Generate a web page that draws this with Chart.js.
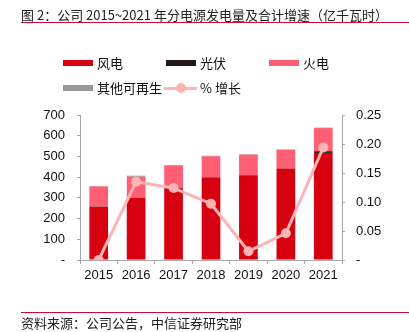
<!DOCTYPE html>
<html><head><meta charset="utf-8">
<script src="https://cdn.jsdelivr.net/npm/chart.js@4"></script>
<style>
html,body{margin:0;padding:0;background:#fff;}
#wrap{position:relative;width:409px;height:332px;overflow:hidden;font-family:"Noto Sans CJK SC","Noto Sans",sans-serif;color:#111;}
#c{position:absolute;left:0;top:0;}
.t{position:absolute;font-size:13px;line-height:16px;white-space:nowrap;}
.rule{position:absolute;left:21px;width:388px;height:1px;background:#C8102E;}
.lg{position:absolute;font-size:13px;line-height:16px;white-space:nowrap;}
.sw{position:absolute;width:30px;height:6px;}
</style></head>
<body><div id="wrap">
<canvas id="c" width="409" height="332"></canvas>
<div class="t" style="left:21px;top:7px;color:#222;">图 2：公司 2015~2021 年分电源发电量及合计增速（亿千瓦时）</div>
<div class="rule" style="top:22px;"></div>
<div id="legend"></div>
<div class="rule" style="top:312px;"></div>
<div class="t" style="left:21px;top:315px;color:#222;">资料来源：公司公告，中信证券研究部</div>
</div>
<script>
const categories = ['2015','2016','2017','2018','2019','2020','2021'];
const windPower  = [257, 301, 346, 400, 409, 440, 517];
const solarPower = [1, 1, 2, 1, 1, 1, 8];
const thermalPower = [97, 100, 107, 100, 99, 92, 112];
const otherRenewable = [2, 5, 4, 2, 2, 1, 2];
const growthRate = [0, 0.135, 0.124, 0.097, 0.015, 0.046, 0.194];
const leftTicks = [0,100,200,300,400,500,600,700];
const rightTicks = [0,0.05,0.10,0.15,0.20,0.25];

const names = ['风电','光伏','火电','其他可再生','% 增长'];
const colors = ['#D7000F','#231815','#FF5F73','#999999','#FFB3B3'];

// HTML legend (grid layout)
const lg = document.getElementById('legend');
const pos = [[63,63],[166,63],[269,63],[63,88],[164,88]];
names.forEach((n,i)=>{
  const [x,y] = pos[i];
  if(i<4){
    const s=document.createElement('div');s.className='sw';
    s.style.left=x+'px';s.style.top=(y-3)+'px';s.style.background=colors[i];lg.appendChild(s);
    const t=document.createElement('div');t.className='lg';t.textContent=n;
    t.style.left=(x+34)+'px';t.style.top=(y-8)+'px';lg.appendChild(t);
  } else {
    const l=document.createElement('div');l.style.cssText='position:absolute;left:'+x+'px;top:'+(y-1.5)+'px;width:33px;height:3px;background:'+colors[i];lg.appendChild(l);
    const d=document.createElement('div');d.style.cssText='position:absolute;left:'+(x+12)+'px;top:'+(y-5)+'px;width:10px;height:10px;border-radius:50%;background:'+colors[i];lg.appendChild(d);
    const t=document.createElement('div');t.className='lg';t.textContent=n;
    t.style.left=(x+36)+'px';t.style.top=(y-8)+'px';lg.appendChild(t);
  }
});

const tickFont = {family:'"Liberation Sans", Arial, sans-serif', size:13};
const axisColor = '#A6A6A6';

new Chart(document.getElementById('c'), {
  data: {
    labels: categories,
    datasets: [
      {type:'line', label:names[4], data:growthRate, yAxisID:'y2', borderColor:colors[4], backgroundColor:colors[4],
       borderWidth:3, pointRadius:5, pointHoverRadius:5, pointBackgroundColor:colors[4], pointBorderWidth:0, order:0, tension:0},
      {type:'bar', label:names[0], data:windPower, backgroundColor:colors[0], stack:'s', yAxisID:'y', order:1},
      {type:'bar', label:names[1], data:solarPower, backgroundColor:colors[1], stack:'s', yAxisID:'y', order:1},
      {type:'bar', label:names[2], data:thermalPower, backgroundColor:colors[2], stack:'s', yAxisID:'y', order:1},
      {type:'bar', label:names[3], data:otherRenewable, backgroundColor:colors[3], stack:'s', yAxisID:'y', order:1}
    ]
  },
  options: {
    responsive:false, animation:false, devicePixelRatio:1,
    layout:{padding:{top:115,left:0,right:0,bottom:0}},
    plugins:{legend:{display:false}, tooltip:{enabled:false}},
    datasets:{bar:{categoryPercentage:1, barPercentage:0.5}},
    scales:{
      x:{stacked:true, offset:true,
         grid:{display:true, drawOnChartArea:false, offset:true, tickLength:4, color:axisColor},
         border:{display:true, color:axisColor},
         ticks:{font:tickFont, color:'#111', padding:4, maxRotation:0},
         afterFit(s){ s.height = 72; }
      },
      y:{stacked:true, position:'left', min:0, max:700,
         afterBuildTicks(s){ s.ticks = leftTicks.map(v=>({value:v})); },
         grid:{display:true, drawOnChartArea:false, tickLength:3, color:axisColor},
         border:{display:true, color:axisColor},
         ticks:{font:tickFont, color:'#111', padding:12, callback:v=> v===0?'-':String(v)},
         afterFit(s){ s.width = 80; }
      },
      y2:{position:'right', min:0, max:0.25,
         afterBuildTicks(s){ s.ticks = rightTicks.map(v=>({value:v})); },
         grid:{display:true, drawOnChartArea:false, tickLength:3, color:axisColor},
         border:{display:true, color:axisColor},
         ticks:{font:tickFont, color:'#111', padding:11, callback:v=> v===0?'-':Number(v).toFixed(2)},
         afterFit(s){ s.width = 67; }
      }
    }
  }
});
</script>
</body></html>
